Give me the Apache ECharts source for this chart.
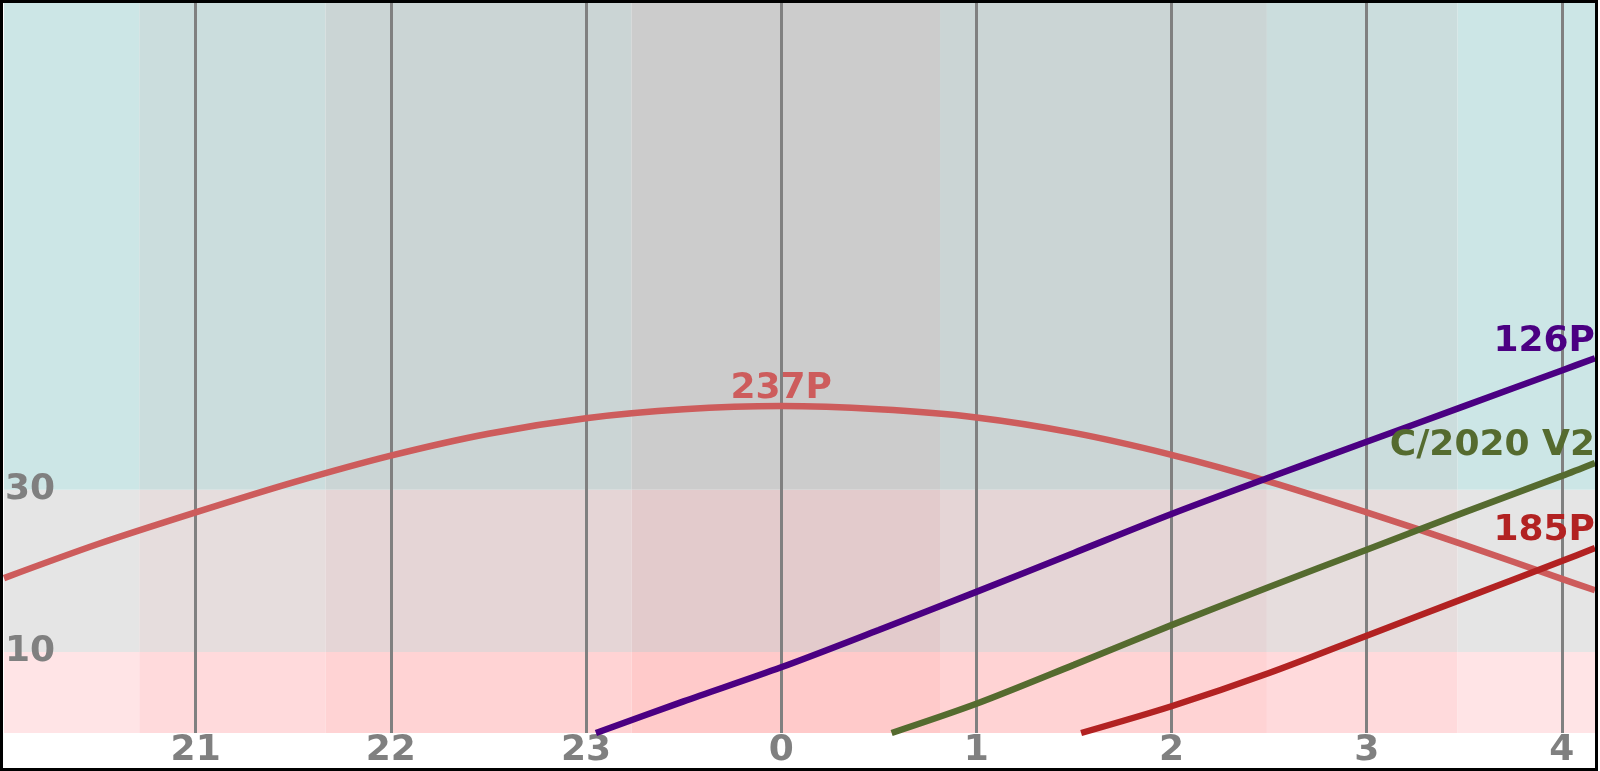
<!DOCTYPE html>
<html>
<head>
<meta charset="utf-8">
<script src="https://cdn.jsdelivr.net/npm/echarts@6/dist/echarts.min.js"></script>
<style>
html,body{margin:0;padding:0;background:#fff;}
#chart{width:1600px;height:771px;}
</style>
</head>
<body>
<div id="chart"></div>
<script>
// ---- data (hours continue past midnight: 24 = 0h, 28 = 4h) ----
const X_MIN = 20.018;
const X_MAX = 28.170;
const hourTicks = [21, 22, 23, 24, 25, 26, 27, 28];
const yTickLabels = [10, 30];
const twilightEdges = [20.711, 21.665, 23.234, 24.814, 26.489, 27.466];
const altZones = [0, 10, 30, 90];

const t237 = [20.018, 20.5, 21, 21.5, 22, 22.5, 23, 23.5, 24, 24.5, 25, 25.5, 26, 26.5, 27, 27.5, 28, 28.170];
const alt237 = [19.1, 23.3, 27.2, 30.9, 34.2, 36.9, 38.8, 39.9, 40.3, 39.9, 38.9, 37.0, 34.3, 31.0, 27.2, 23.2, 19.0, 17.6];

const t126 = [23.051, 23.5, 24, 24.5, 25, 25.5, 26, 26.5, 27, 27.5, 28, 28.170];
const alt126 = [0, 3.9, 8.1, 12.7, 17.4, 22.2, 27.0, 31.5, 35.9, 40.3, 44.7, 46.2];

const tV2 = [24.566, 25, 25.5, 26, 26.5, 27, 27.5, 28, 28.170];
const altV2 = [0, 3.6, 8.4, 13.3, 18.0, 22.6, 27.2, 31.7, 33.3];

const t185 = [25.537, 26, 26.5, 27, 27.5, 28, 28.170];
const alt185 = [0, 3.3, 7.4, 12.0, 16.6, 21.2, 22.8];

const seriesNames = ['237P', '126P', 'C/2020 V2', '185P'];

// ---- styles ----
const bandColors = [
  ['#ffe4e6', '#ffdadc', '#ffd3d4', '#ffcaca', '#ffd3d4', '#ffdadc', '#ffe4e6'],
  ['#e5e5e5', '#e6dddd', '#e5d5d6', '#e3cbcc', '#e5d5d6', '#e6dddd', '#e5e5e5'],
  ['#cce6e6', '#cbdddd', '#cbd5d5', '#cccccc', '#cbd5d5', '#cbdddd', '#cce6e6']
];
const lineColors = ['#cd5c5c', '#4b0082', '#556b2f', '#b22222'];
const FONT = 'DejaVu Sans';

function zip(t, a) { return t.map((x, i) => [x, a[i]]); }

const xEdges = [X_MIN].concat(twilightEdges, [X_MAX]);
const bandData = [];
for (let j = 0; j < altZones.length - 1; j++) {
  for (let i = 0; i < xEdges.length - 1; i++) {
    bandData.push([
      { xAxis: xEdges[i], yAxis: altZones[j], itemStyle: { color: bandColors[j][i], opacity: 1 } },
      { xAxis: xEdges[i + 1], yAxis: altZones[j + 1] }
    ]);
  }
}

function curve(name, t, a, color, labelIdx, align) {
  const data = zip(t, a).map((p, i) => {
    if (i !== labelIdx) return p;
    return {
      value: p,
      label: {
        show: true, position: 'top', distance: -1, align: align,
        formatter: name, color: color, fontFamily: FONT, fontWeight: 'bold', fontSize: 36
      }
    };
  });
  return {
    name: name, type: 'line', data: data, smooth: 0.3, z: 5,
    showSymbol: true, symbol: 'circle', symbolSize: 0,
    lineStyle: { color: color, width: 6.5 }, itemStyle: { color: color },
    label: { show: false }, silent: true, animation: false, clip: true
  };
}

const peakIdx = alt237.indexOf(Math.max.apply(null, alt237));

const option = {
  backgroundColor: '#ffffff',
  animation: false,
  grid: { left: 4, right: 5, top: 3, bottom: 38 },
  xAxis: {
    type: 'value', min: X_MIN, max: X_MAX,
    axisLine: { show: false }, axisTick: { show: false },
    axisLabel: { show: false }, splitLine: { show: false }
  },
  yAxis: {
    type: 'value', min: 0, max: 90, interval: 10,
    axisLine: { show: false }, axisTick: { show: false }, splitLine: { show: false },
    axisLabel: {
      inside: true, margin: 1,
      formatter: v => (yTickLabels.indexOf(v) >= 0 ? String(v) : ''),
      color: '#808080', fontFamily: FONT, fontWeight: 'bold', fontSize: 36
    },
    z: 10
  },
  series: [
    {
      type: 'line', data: [], z: 1, silent: true,
      markArea: { silent: true, data: bandData }
    },
    {
      type: 'line', data: [], z: 2, silent: true,
      markLine: {
        silent: true, symbol: ['none', 'none'], animation: false,
        lineStyle: { color: '#808080', width: 3, type: 'solid' },
        label: {
          show: true, position: 'start', distance: 0,
          formatter: p => String(p.value % 24),
          color: '#808080', fontFamily: FONT, fontWeight: 'bold', fontSize: 36
        },
        data: hourTicks.map(h => ({ xAxis: h }))
      }
    },
    curve(seriesNames[0], t237, alt237, lineColors[0], peakIdx, 'center'),
    curve(seriesNames[1], t126, alt126, lineColors[1], t126.length - 1, 'right'),
    curve(seriesNames[2], tV2, altV2, lineColors[2], tV2.length - 1, 'right'),
    curve(seriesNames[3], t185, alt185, lineColors[3], t185.length - 1, 'right')
  ],
  graphic: [{
    type: 'rect', z: 100, silent: true,
    shape: { x: 1.5, y: 1.5, width: 1595, height: 768 },
    style: { fill: null, stroke: '#000000', lineWidth: 3 }
  }]
};

const chart = echarts.init(document.getElementById('chart'), null, { renderer: 'canvas' });
chart.setOption(option);
</script>
</body>
</html>
